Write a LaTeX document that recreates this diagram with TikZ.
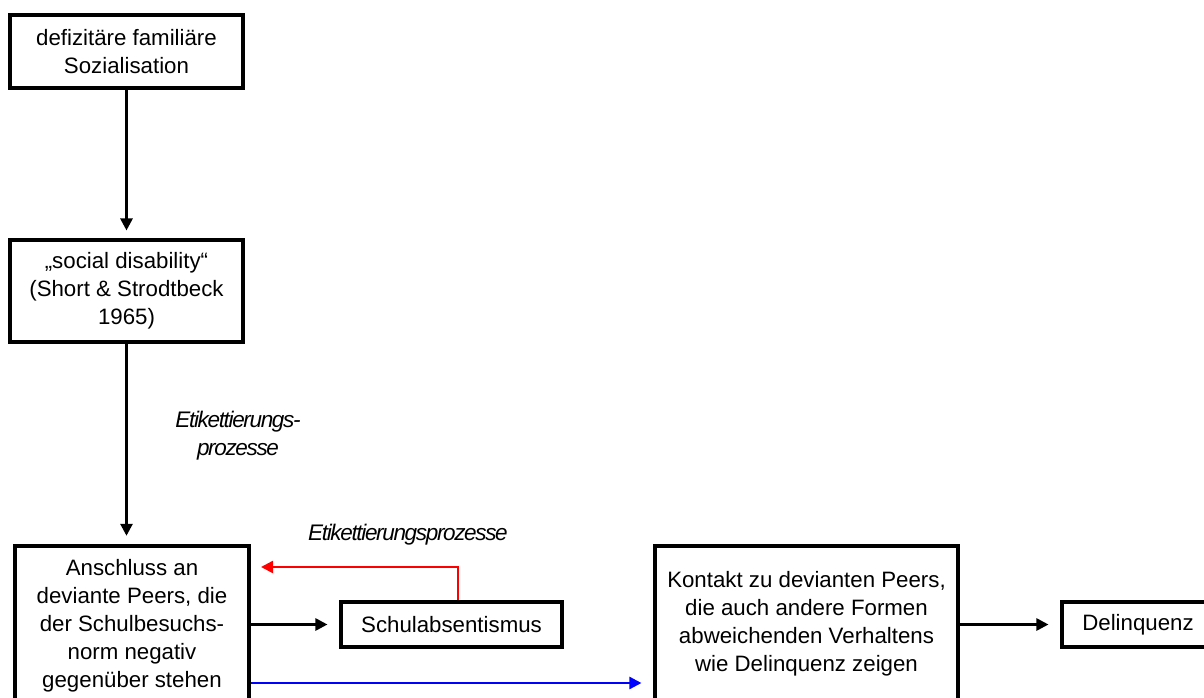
\documentclass[tikz,border=0pt]{standalone}
\usepackage{fontspec}
\setmainfont{Liberation Sans}
\newfontfamily\lblfont[LetterSpace=-6]{Liberation Sans}
\usetikzlibrary{arrows.meta}
\tikzset{
  box/.style={draw, line width=2.3pt, align=center, inner sep=0pt,
    font=\fontsize{16.7pt}{21pt}\selectfont},
  conn/.style={line width=2pt, -{Triangle[length=9pt,width=9pt]}},
  lbl/.style={align=center, inner sep=0pt,
    font=\lblfont\itshape\fontsize{16.9pt}{21pt}\selectfont}
}
\begin{document}
\begin{tikzpicture}[x=0.75pt,y=-0.75pt]
\useasboundingbox (0,0) rectangle (1204,697);
\clip (0,0) rectangle (1204,697);
\node[box, minimum width=174.75pt, minimum height=54.75pt] (n1) at (126.5,51.5)
  {defizitäre familiäre\\Sozialisation};
\node[box, minimum width=174.75pt, minimum height=76.5pt] (n2) at (126.5,291)
  {„social disability“\\(Short \& Strodtbeck\\1965)};
\node[box, minimum width=175.5pt, minimum height=120pt] (n3) at (132,626)
  {Anschluss an\\deviante Peers, die\\der Schulbesuchs-\\norm negativ\\gegenüber stehen};
\node[box, minimum width=165.75pt, minimum height=33.75pt] (n4) at (451.5,624.5)
  {Schulabsentismus};
\node[box, minimum width=227.25pt, minimum height=117pt] (n5) at (806.5,624)
  {Kontakt zu devianten Peers,\\die auch andere Formen\\abweichenden Verhaltens\\wie Delinquenz zeigen};
\node[box, minimum width=114pt, minimum height=33.75pt] (n6) at (1138,624.5)
  {Delinquenz};
\node[lbl] (l1) at (238,436) {Etikettierungs-\\prozesse};
\node[lbl] (l2) at (408,535) {Etikettierungsprozesse};
\coordinate (redturn) at (458,567);
\coordinate (redend) at (261,567);
\coordinate (bluey) at (0,683);
\draw[conn, shorten >=6pt] (n1.south) -- (n2.north);
\draw[conn, shorten >=6.5pt] (n2.south) -- (n2.south |- n3.north);
\draw[conn, shorten >=9pt] (n3.east |- n4.west) -- (n4.west);
\draw[conn, shorten >=9pt] (n5.east |- n6.west) -- (n6.west);
\draw[conn, red, line width=1.8pt] (redturn |- n4.north) |- (redend);
\draw[conn, blue, line width=1.8pt, shorten >=9pt] (n3.east |- bluey) -- (n5.west |- bluey);
\end{tikzpicture}
\end{document}
